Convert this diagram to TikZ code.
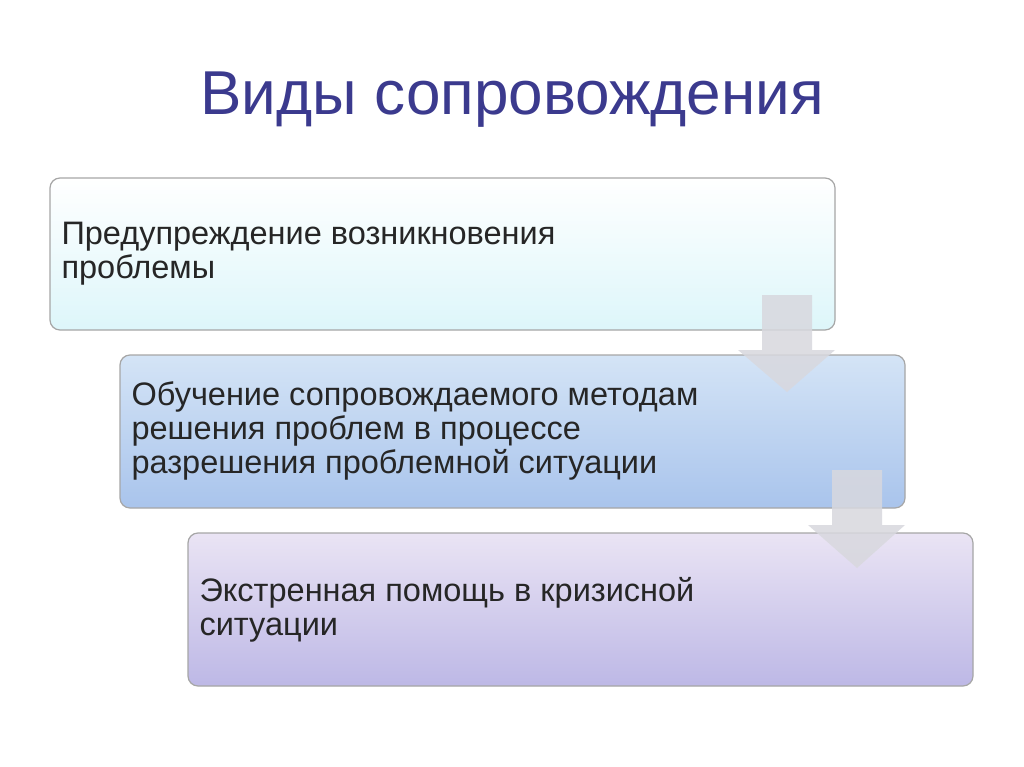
\documentclass[tikz,border=0pt]{standalone}
\usepackage{fontspec}
\setmainfont{Liberation Sans}
\definecolor{titlec}{HTML}{3B3A8E}
\definecolor{arr}{HTML}{D8D8DE}
\definecolor{bA}{HTML}{FFFFFF}
\definecolor{bB}{HTML}{DDF6FA}
\definecolor{cA}{HTML}{D4E4F6}
\definecolor{cB}{HTML}{A9C4EC}
\definecolor{dA}{HTML}{EAE4F4}
\definecolor{dB}{HTML}{BDB8E6}
\begin{document}
\begin{tikzpicture}[x=1pt,y=-1pt,
 box/.style={draw=black!35,line width=1.2pt,rounded corners=10pt},
 txt/.style={anchor=west,align=left,font=\fontsize{32.5}{34}\selectfont,text=black!85},
 arrw/.style={fill=arr,fill opacity=0.85}]
\useasboundingbox (0,0) rectangle (1024,767);
\fill[white] (0,0) rectangle (1024,767);
\node[font=\fontsize{62}{70}\selectfont,text=titlec] (t) at (512,100) {Виды сопровождения};
\shade[box,top color=bA,bottom color=bB] (50,178) rectangle (835,330);
\node[txt] (a) at (58,254) {Предупреждение возникновения\\проблемы};
\shade[box,top color=cA,bottom color=cB] (120,355) rectangle (905,508);
\node[txt] (b) at (128,431) {Обучение сопровождаемого методам\\решения проблем в процессе\\разрешения проблемной ситуации};
\shade[box,top color=dA,bottom color=dB] (188,533) rectangle (973,686);
\node[txt] (c) at (196,610) {Экстренная помощь в кризисной\\ситуации};
\path[arrw] (762,295) -- (812,295) -- (812,350) -- (835,350) -- (787,392) -- (738,350) -- (762,350) -- cycle;
\path[arrw] (832,470) -- (882,470) -- (882,525) -- (905,525) -- (857,568) -- (808,525) -- (832,525) -- cycle;
\end{tikzpicture}
\end{document}
